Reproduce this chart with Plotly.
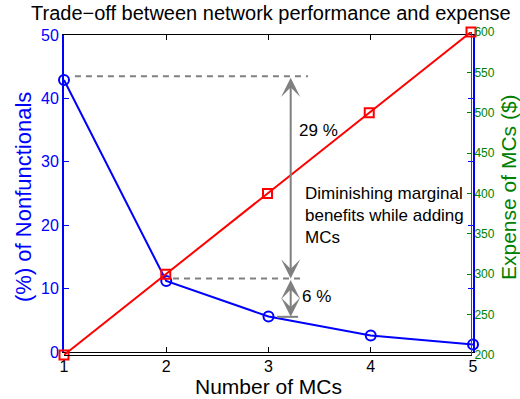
import plotly.graph_objects as go

# Number of MCs deployed
mcs = [1, 2, 3, 4, 5]
# Share of nonfunctional nodes (%)
nonfunctional = [42.9, 11.2, 5.6, 2.6, 1.2]
# Cost of the deployed MCs ($)
expense = [200, 300, 400, 500, 600]

x_ticks = [1, 2, 3, 4, 5]
left_ticks = [0, 10, 20, 30, 40, 50]
right_ticks = [200, 250, 300, 350, 400, 450, 500, 550, 600]

# Annotation levels on the percentage axis
top_level = 43.5
mid_level = 11.6
low_level = 5.55
arrow_x = 3.217

BLUE = "#0000ff"
RED = "#ff0000"
GREEN = "#008000"
GRAY = "#808080"
FONT = "Liberation Sans, Arial, Helvetica, sans-serif"

W, H = 520, 399
L, R, T, B = 64, 47, 32, 44
PW, PH = W - L - R, H - T - B


def px(xp):
    return (xp - L) / PW


def py(yp):
    return (H - B - yp) / PH


fig = go.Figure()

fig.add_trace(go.Scatter(
    x=mcs, y=nonfunctional, xaxis="x", yaxis="y", mode="lines+markers",
    line=dict(color=BLUE, width=2),
    marker=dict(symbol="circle-open", size=10, color=BLUE, line=dict(width=2)),
    cliponaxis=False, showlegend=False,
))
fig.add_trace(go.Scatter(
    x=mcs, y=expense, xaxis="x2", yaxis="y2", mode="lines+markers",
    line=dict(color=RED, width=2),
    marker=dict(symbol="square-open", size=9, color=RED, line=dict(width=2)),
    cliponaxis=False, showlegend=False,
))

shapes = [
    dict(type="line", xref="x", yref="y", x0=1.107, x1=3.386, y0=top_level, y1=top_level,
         line=dict(color=GRAY, width=2, dash="6px,5px")),
    dict(type="line", xref="x", yref="y", x0=2.066, x1=3.357, y0=mid_level, y1=mid_level,
         line=dict(color=GRAY, width=2, dash="6px,5px")),
    dict(type="line", xref="x", yref="y", x0=3.083, x1=3.29, y0=low_level, y1=low_level,
         line=dict(color=GRAY, width=2)),
]

annotations = [
    dict(x=arrow_x, y=mid_level, ax=arrow_x, ay=top_level, xref="x", yref="y",
         axref="x", ayref="y", text="", showarrow=True, arrowhead=3, startarrowhead=3,
         arrowside="end+start", arrowcolor=GRAY, arrowwidth=2, arrowsize=1.6,
         startarrowsize=1.6),
    dict(x=arrow_x, y=low_level, ax=arrow_x, ay=mid_level, xref="x", yref="y",
         axref="x", ayref="y", text="", showarrow=True, arrowhead=3, startarrowhead=3,
         arrowside="end+start", arrowcolor=GRAY, arrowwidth=2, arrowsize=1.6,
         startarrowsize=1.6),
    dict(x=3.279, y=34.9, xref="x", yref="y", text="29 %", showarrow=False,
         xanchor="left", yanchor="middle", font=dict(family=FONT, size=17, color="black")),
    dict(x=3.308, y=8.72, xref="x", yref="y", text="6 %", showarrow=False,
         xanchor="left", yanchor="middle", font=dict(family=FONT, size=17, color="black")),
    dict(x=3.337, y=21.6, xref="x", yref="y",
         text="Diminishing marginal<br>benefits while adding<br>MCs", showarrow=False,
         align="left", xanchor="left", yanchor="middle",
         font=dict(family=FONT, size=17, color="black")),
    dict(x=px(271), y=py(13), xref="paper", yref="paper",
         text="Trade\u2212off between network performance and expense", showarrow=False,
         xanchor="center", yanchor="middle", font=dict(family=FONT, size=20, color="black")),
    dict(x=px(268), y=py(386), xref="paper", yref="paper", text="Number of MCs",
         showarrow=False, xanchor="center", yanchor="middle",
         font=dict(family=FONT, size=21, color="black")),
    dict(x=px(23), y=py(197), xref="paper", yref="paper", text="(%) of Nonfunctionals",
         showarrow=False, textangle=-90, xanchor="center", yanchor="middle",
         font=dict(family=FONT, size=22, color=BLUE)),
    dict(x=px(508), y=py(187), xref="paper", yref="paper", text="Expense of MCs ($)",
         showarrow=False, textangle=-90, xanchor="center", yanchor="middle",
         font=dict(family=FONT, size=21, color=GREEN)),
]

fig.update_layout(
    width=W, height=H,
    margin=dict(l=L, r=R, t=T, b=B, pad=0),
    paper_bgcolor="white", plot_bgcolor="rgba(0,0,0,0)",
    font=dict(family=FONT),
    shapes=shapes, annotations=annotations,
    xaxis=dict(
        domain=[0, 1], anchor="y", range=[1, 5], tickvals=x_ticks,
        showline=True, linecolor="black", linewidth=1, mirror="ticks",
        ticks="inside", ticklen=5, tickcolor="black", showgrid=False, zeroline=False,
        tickfont=dict(family=FONT, size=16, color="black"),
    ),
    yaxis=dict(
        domain=[py(352), py(35)], anchor="x", range=[0, 50], tickvals=left_ticks,
        showline=True, linecolor=BLUE, linewidth=2, mirror="ticks",
        ticks="inside", ticklen=5, tickcolor=BLUE, showgrid=False, zeroline=False,
        tickfont=dict(family=FONT, size=16, color=BLUE),
    ),
    xaxis2=dict(
        domain=[0, px(471)], anchor="y2", range=[1, 5], tickvals=x_ticks,
        showline=True, linecolor="black", linewidth=1, ticks="", showticklabels=False,
        showgrid=False, zeroline=False,
    ),
    yaxis2=dict(
        domain=[0, 1], anchor="x2", side="right", range=[200, 600], tickvals=right_ticks,
        showline=True, linecolor=GREEN, linewidth=1,
        ticks="inside", ticklen=4, tickcolor=GREEN, showgrid=False, zeroline=False,
        tickfont=dict(family=FONT, size=12, color=GREEN),
    ),
)

fig.write_html("out.html")
